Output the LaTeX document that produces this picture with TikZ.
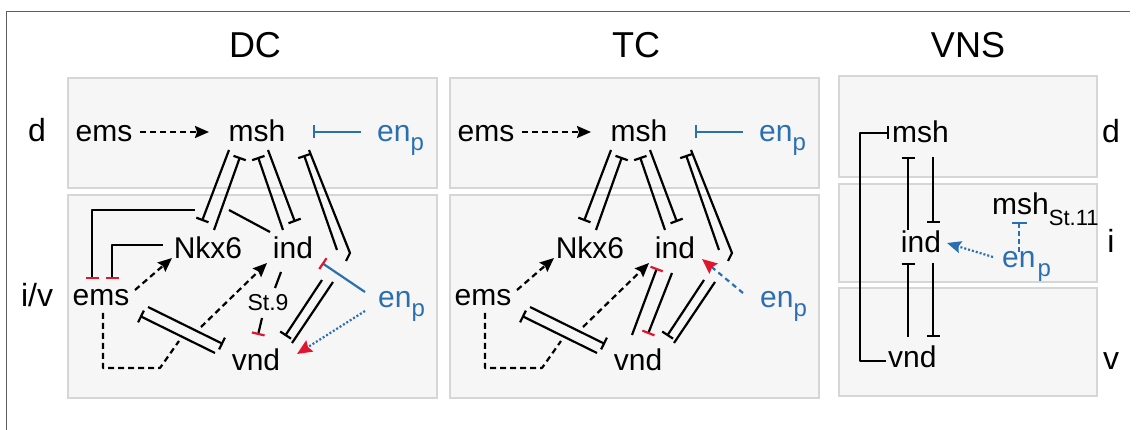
\documentclass[tikz,border=0pt]{standalone}
\usepackage{fontspec}
\setmainfont{Liberation Sans}
\usetikzlibrary{arrows.meta}
\definecolor{enblue}{HTML}{2C6FB0}
\definecolor{inhred}{HTML}{E2152E}
\definecolor{boxfill}{HTML}{F6F6F6}
\definecolor{boxline}{HTML}{D6D6D6}
\definecolor{framecol}{HTML}{606060}
\newcommand\enp{en\raisebox{-9pt}{\fontsize{24}{24}\selectfont p}}
\tikzset{
  lbl/.style={font=\fontsize{30}{34}\selectfont, inner sep=0pt, anchor=base},
  ttl/.style={font=\fontsize{36}{40}\selectfont, inner sep=0pt, anchor=base},
  small/.style={font=\fontsize{23}{26}\selectfont, inner sep=0pt, anchor=base},
  box/.style={draw=boxline, fill=boxfill, line width=1.2pt},
  ln/.style={line width=2.2pt, line join=round},
  inh/.style={ln, -{Bar[width=13pt]}},
  inhr/.style={ln, -{Bar[width=13pt,color=inhred]}},
  inhb/.style={ln, enblue, -{Bar[width=13pt]}},
  act/.style={ln, dash pattern=on 6pt off 4pt, -{Stealth[length=14pt,width=12pt,inset=2pt]}},
  dsh/.style={ln, dash pattern=on 6pt off 4pt},
  dotred/.style={ln, enblue, dash pattern=on 2pt off 2pt, -{Stealth[length=15pt,width=13pt,inset=2pt,color=inhred]}},
  dashred/.style={ln, enblue, dash pattern=on 5pt off 4pt, -{Stealth[length=15pt,width=13pt,inset=2pt,color=inhred]}},
}
% Parts shared by the DC and TC panels; #1 is a name prefix
\newcommand\corepanel[1]{%
  \draw[box] (68,78) rectangle (437,188);
  \draw[box] (68,195) rectangle (437,398);
  % dorsal row
  \node[lbl] (#1ems0) at (104,142) {ems};
  \node[lbl] (#1msh0) at (257,142) {msh};
  \node[lbl, anchor=base west, text=enblue] (#1enp0) at (377,142) {\enp};
  \coordinate (#1a0) at (140,132);
  \coordinate (#1a1) at (209,132);
  \draw[act] (#1a0) -- (#1a1);
  \coordinate (#1b0) at (361,132);
  \coordinate (#1b1) at (313,132);
  \draw[inhb] (#1b0) -- (#1b1);
  % intermediate / ventral row
  \node[lbl] (#1nkx) at (208,259) {Nkx6};
  \node[lbl] (#1ind) at (293,259) {ind};
  \node[lbl] (#1ems) at (101,306) {ems};
  \node[lbl] (#1vnd) at (256,371) {vnd};
  \node[lbl, anchor=base west, text=enblue] (#1enp) at (378,308) {\enp};
  % msh -- Nkx6
  \draw[inh] (229,150) -- (202,221);
  \draw[inh] (214,230) -- (240,157);
  % msh -- ind
  \draw[inh] (283,230) -- (258,157);
  \draw[inh] (268,150) -- (295,222);
  % msh -- vnd, bent pair
  \draw[inh] (337,250) -- (304,155);
  \draw[ln] (309,150) -- (350,253) -- (346,261);
  \draw[inh] (322,280) -- (285,336);
  \draw[ln] (333,282) -- (292,343);
  % ems -- vnd
  \draw[inh] (148,307) -- (223,344);
  \draw[inh] (215,353) -- (140,316);
  % ems activations
  \draw[act] (135,290) -- (172,258);
  \draw[dsh] (103,313) -- (103,368) -- (160,368) -- (179,341);
  \draw[act] (201,327) -- (267,263);
}
\begin{document}
\begin{tikzpicture}[x=1pt,y=-1pt]
\useasboundingbox (0,0) rectangle (1136,430);
\draw[framecol, line width=1pt] (6,430) -- (6,12) -- (1130,12);
% titles and side labels
\node[ttl] (tdc) at (255,58) {DC};
\node[ttl] (ttc) at (636,58) {TC};
\node[ttl] (tvns) at (968,58) {VNS};
\node[lbl, font=\fontsize{32}{36}\selectfont] (sd) at (37,142) {d};
\node[lbl, font=\fontsize{32}{36}\selectfont] (siv) at (37,307) {i/v};
\node[lbl, font=\fontsize{32}{36}\selectfont] (vd) at (1111,143) {d};
\node[lbl, font=\fontsize{32}{36}\selectfont] (vi) at (1111,253) {i};
\node[lbl, font=\fontsize{32}{36}\selectfont] (vv) at (1111,370) {v};

% ---------------- DC panel
\corepanel{dc-}
\draw[ln] (270,232) -- (229,210);
\draw[inhr] (195,210) -- (92,210) -- (92,279);
\draw[inhr] (163,245) -- (112,245) -- (112,279);
\draw[ln] (281,272) -- (275,288);
\node[small] (st9) at (268,311) {St.9};
\draw[inhr] (262,318) -- (258,335);
\draw[ln, enblue, -{Bar[width=13pt,color=inhred]}] (365,292) -- (322,263);
\draw[dotred] (365,311) -- (297,354);

% ---------------- TC panel
\begin{scope}[xshift=382pt]
\corepanel{tc-}
\draw[inhr] (250,335) -- (275,268);
\draw[inhr] (290,273) -- (266,334);
\draw[dashred] (361,293) -- (320,259);
\end{scope}

% ---------------- VNS panel
\draw[box] (839,76) rectangle (1097,177);
\draw[box] (839,184) rectangle (1097,282);
\draw[box] (839,288) rectangle (1097,396);
\node[lbl, anchor=base west] (vmsh) at (892,143) {msh};
\node[lbl] (vind) at (921,253) {ind};
\node[lbl, anchor=base west] (vvnd) at (888,368) {vnd};
\draw[inh] (886,361) -- (860,361) -- (860,133) -- (889,133);
\draw[inh] (908,230) -- (908,157);
\draw[inh] (933,157) -- (933,223);
\draw[inh] (908,337) -- (908,263);
\draw[inh] (933,263) -- (933,337);
\node[lbl, anchor=base west] (vmsh11) at (992,215) {msh\raisebox{-11pt}{\fontsize{22}{22}\selectfont St.11}};
\node[lbl, anchor=base west, text=enblue] (venp) at (1002,268) {en\hspace{2pt}\raisebox{-9pt}{\fontsize{24}{24}\selectfont p}};
\draw[ln, enblue, dash pattern=on 5pt off 3pt, -{Bar[width=15pt]}] (1019,252) -- (1019,222);
\draw[ln, enblue, dash pattern=on 2pt off 2pt, -{Stealth[length=14pt,width=12pt,inset=2pt]}] (993,257) -- (947,243);
\end{tikzpicture}
\end{document}
